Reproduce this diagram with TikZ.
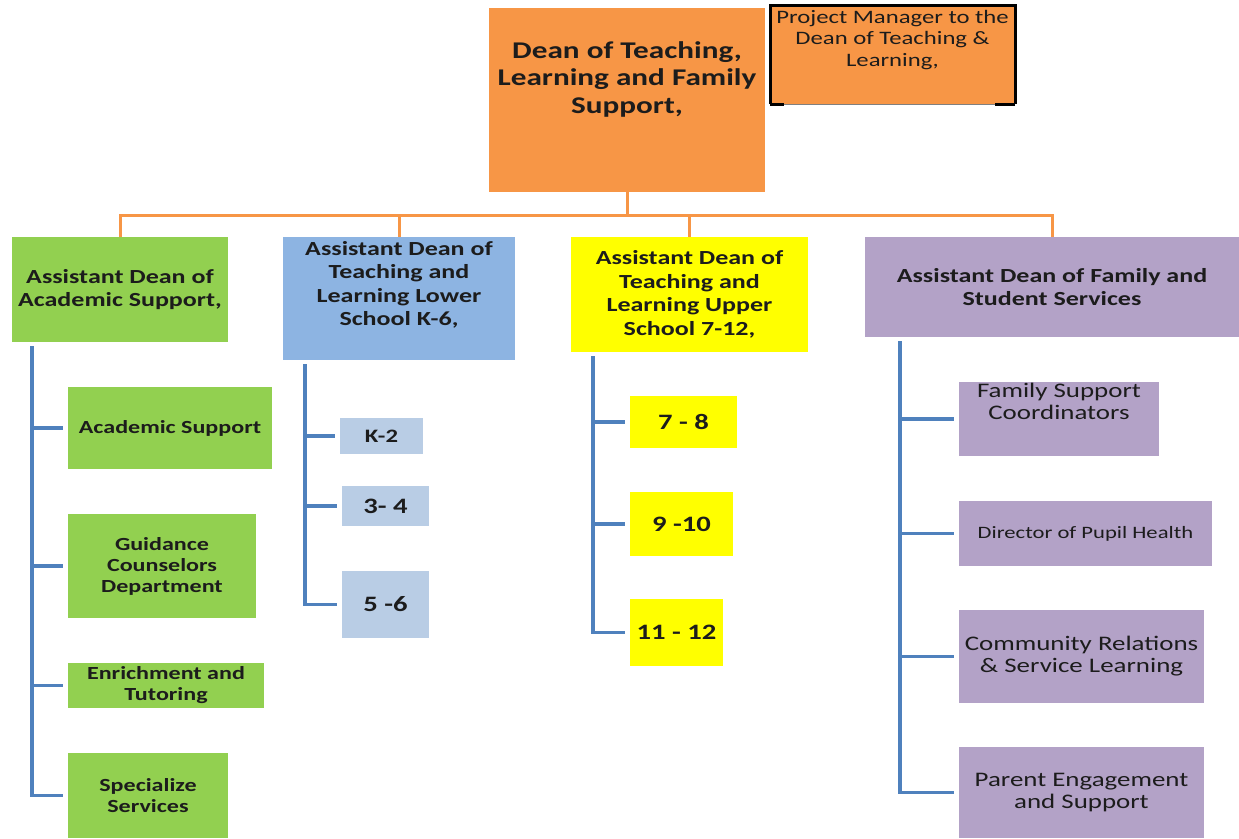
\documentclass[tikz,border=0pt]{standalone}
\usepackage{fontspec}
\setmainfont{Carlito}[FakeStretch=1.3]
\usetikzlibrary{positioning}
\definecolor{deanorange}{HTML}{F79646}
\definecolor{acadgreen}{HTML}{92D050}
\definecolor{lowerblue}{HTML}{8DB4E2}
\definecolor{gradeblue}{HTML}{B9CDE5}
\definecolor{upperyellow}{HTML}{FFFF00}
\definecolor{familylilac}{HTML}{B3A2C7}
\definecolor{linkblue}{HTML}{4F81BD}
\definecolor{inkgrey}{HTML}{1C1C1C}
\tikzset{
    orgbox/.style={rectangle, anchor=north west, inner sep=0pt, outer sep=0pt, align=center, text=inkgrey},
    headbox/.style={orgbox, font=\bfseries\fontsize{20}{23.5}\selectfont},
    subbox/.style={orgbox, fill=acadgreen, font=\bfseries\fontsize{18.5}{21}\selectfont},
    gradebox/.style={orgbox, font=\bfseries\fontsize{22}{24}\selectfont},
    fambox/.style={orgbox, fill=familylilac, font=\fontsize{20.7}{22}\selectfont},
    toptext/.style={inner sep=0pt, align=center, text=inkgrey},
    busline/.style={draw=deanorange, line width=3pt},
    treeline/.style={draw=linkblue, line width=3.5pt, shorten <=4pt, shorten >=5pt},
}

\begin{document}
\begin{tikzpicture}[x=1pt, y=-1pt]
    \path[use as bounding box, fill=white] (0,0) rectangle (1239,838);

    \node[orgbox, fill=deanorange, minimum width=276pt, minimum height=184pt] (dean) at (489,8) {};
    \node[toptext, font=\bfseries\fontsize{24}{27.5}\selectfont, below=33pt of dean.north] (deanlbl)
        {Dean of Teaching,\\Learning and Family\\Support,};

    \node[orgbox, fill=deanorange, minimum width=245pt, minimum height=99pt] (pm) at (770,5) {};
    \node[toptext, font=\fontsize{19}{21.5}\selectfont, below=5pt of pm.north] (pmlbl)
        {Project Manager to the\\Dean of Teaching \&\\Learning,};
    \draw[black, line width=3pt] (pm.south west) -- (pm.north west) -- (pm.north east) -- (pm.south east);
    \draw[gray, line width=1pt] (pm.south west) -- (pm.south east);
    \draw[black, line width=3pt] (pm.south west) -- ++(14,0);
    \draw[black, line width=3pt] (pm.south east) -- ++(-20,0);

    \node[headbox, fill=acadgreen, minimum width=216pt, minimum height=105pt] (acad) at (12,237)
        {Assistant Dean of\\Academic Support,};
    \node[headbox, fill=lowerblue, minimum width=232pt, minimum height=123pt] (lower) at (283,237) {};
    \node[toptext, font=\bfseries\fontsize{20}{23.5}\selectfont, below=4pt of lower.north] (lowerlbl)
        {Assistant Dean of\\Teaching and\\Learning Lower\\School K-6,};
    \node[headbox, fill=upperyellow, minimum width=237pt, minimum height=115pt] (upper) at (571,237)
        {Assistant Dean of\\Teaching and\\Learning Upper\\School 7-12,};
    \node[headbox, fill=familylilac, minimum width=374pt, minimum height=100pt] (family) at (865,237)
        {Assistant Dean of Family and\\Student Services};

    \node[subbox, minimum width=204pt, minimum height=82pt] (asup) at (68,387) {Academic Support};
    \node[subbox, minimum width=188pt, minimum height=104pt] (guid) at (68,514) {Guidance\\Counselors\\Department};
    \node[subbox, minimum width=196pt, minimum height=45pt] (enrich) at (68,663) {Enrichment and\\Tutoring};
    \node[subbox, minimum width=160pt, minimum height=85pt] (spec) at (68,753) {Specialize\\Services};

    \node[gradebox, fill=gradeblue, font=\bfseries\fontsize{19}{22}\selectfont, minimum width=83pt, minimum height=36pt] (kto2) at (340,418) {K-2};
    \node[gradebox, fill=gradeblue, minimum width=87pt, minimum height=40pt] (g34) at (342,486) {3- 4};
    \node[gradebox, fill=gradeblue, minimum width=87pt, minimum height=67pt] (g56) at (342,571) {5 -6};

    \node[gradebox, fill=upperyellow, minimum width=107pt, minimum height=52pt] (g78) at (630,396) {7 - 8};
    \node[gradebox, fill=upperyellow, minimum width=103pt, minimum height=64pt] (g910) at (630,492) {9 -10};
    \node[gradebox, fill=upperyellow, minimum width=93pt, minimum height=67pt] (g1112) at (630,599) {11 - 12};

    \node[fambox, minimum width=200pt, minimum height=74pt] (fsc) at (959,382) {};
    \node[toptext, font=\fontsize{20.7}{21.5}\selectfont, below=1pt of fsc.north] (fsclbl)
        {Family Support\\Coordinators};
    \node[fambox, font=\fontsize{17.4}{21}\selectfont, minimum width=253pt, minimum height=65pt] (dph) at (959,501)
        {Director of Pupil Health};
    \node[fambox, minimum width=245pt, minimum height=93pt] (crs) at (959,610) {Community Relations\\\& Service Learning};
    \node[fambox, minimum width=245pt, minimum height=91pt] (pes) at (959,747) {Parent Engagement\\and Support};

    \foreach \n in {acad,lower,upper,family}
        \draw[busline] (dean.south) -- ++(0,23) -| (\n.north);

    \foreach \n in {asup,guid,enrich,spec}
        \draw[treeline] ([xshift=20pt]acad.south west) |- (\n.west);
    \foreach \n in {kto2,g34,g56}
        \draw[treeline] ([xshift=22pt]lower.south west) |- (\n.west);
    \foreach \n in {g78,g910,g1112}
        \draw[treeline] ([xshift=22pt]upper.south west) |- (\n.west);
    \foreach \n in {fsc,dph,crs,pes}
        \draw[treeline] ([xshift=35pt]family.south west) |- (\n.west);
\end{tikzpicture}
\end{document}
